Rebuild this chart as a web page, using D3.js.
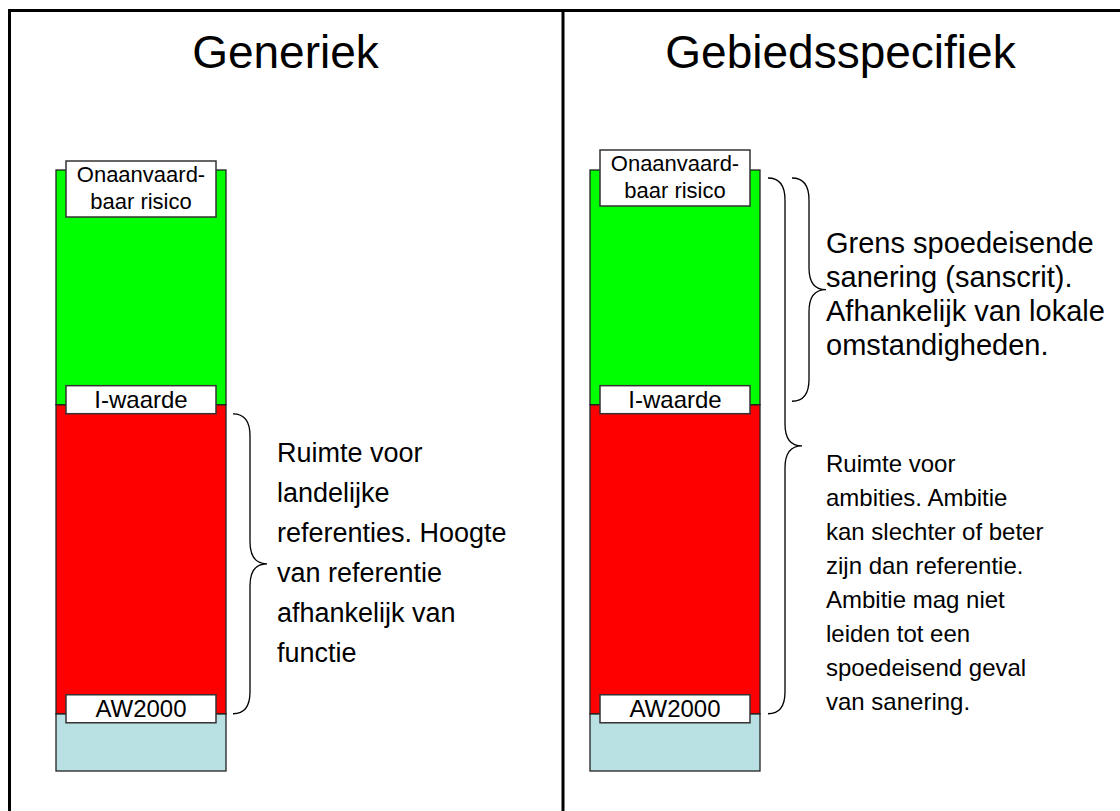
<!DOCTYPE html>
<html>
<head>
<meta charset="utf-8">
<script src="https://cdn.jsdelivr.net/npm/d3@7"></script>
<style>
  html, body { margin: 0; padding: 0; background: #fff; }
  svg { display: block; font-family: "Liberation Sans", Arial, sans-serif; }
</style>
</head>
<body>
<svg id="chart" width="1120" height="811"></svg>
<script>
const panels = ['Generiek', 'Gebiedsspecifiek'];
const levelNames = ['AW2000', 'I-waarde', 'Onaanvaard-|baar risico'];
const levelValues = [10, 64, 105];
const bandNames = ['achtergrond', 'ruimte', 'spoed'];
const bandRanges = [[0, 10], [10, 64], [64, 105]];
const braceRanges = [[[10, 62.4]], [[64.6, 103.6], [10, 103.6]]];
const notes = [
  [['Ruimte voor', 'landelijke', 'referenties. Hoogte', 'van referentie', 'afhankelijk van', 'functie']],
  [['Grens spoedeisende', 'sanering (sanscrit).', 'Afhankelijk van lokale', 'omstandigheden.'],
   ['Ruimte voor', 'ambities. Ambitie', 'kan slechter of beter', 'zijn dan referentie.', 'Ambitie mag niet', 'leiden tot een', 'spoedeisend geval', 'van sanering.']]
];

const bandColors = ['#b9e0e3', '#ff0000', '#00ff00'];
const svg = d3.select('#chart');

// panel frame + titles
const x = d3.scaleBand().domain(panels).range([8, 1118]);
// bar positions inside the panels
const xBar = d3.scaleBand().domain(panels).range([56, 1124]);
const y = d3.scaleLinear().domain([0, 105]).range([771, 170]);

svg.append('rect')
   .attr('x', 9.5).attr('y', 10.5)
   .attr('width', 1125).attr('height', 820)
   .attr('fill', 'none').attr('stroke', '#000').attr('stroke-width', 3);
svg.append('line')
   .attr('x1', x(panels[1])).attr('x2', x(panels[1]))
   .attr('y1', 10).attr('y2', 811)
   .attr('stroke', '#000').attr('stroke-width', 3);

// brace "}" path
function brace(x0, yTop, yBot, w) {
  const ym = (yTop + yBot) / 2, r = 22;
  return `M${x0},${yTop} Q${x0 + w},${yTop} ${x0 + w},${yTop + r}` +
         ` L${x0 + w},${ym - r} Q${x0 + w},${ym} ${x0 + 2 * w},${ym}` +
         ` Q${x0 + w},${ym} ${x0 + w},${ym + r} L${x0 + w},${yBot - r}` +
         ` Q${x0 + w},${yBot} ${x0},${yBot}`;
}

const braceX = [[233], [792, 768]];
const noteX = [[277], [826, 826]];
const noteY = [[462], [253, 472]];
const noteStep = [[40], [34, 34]];
const noteSize = [[27], [29, 24]];
const topBoxY = [161, 150];

panels.forEach((p, i) => {
  svg.append('text')
     .attr('x', x(p) + x.bandwidth() / 2).attr('y', 68)
     .attr('text-anchor', 'middle')
     .attr('font-size', 46)
     .text(p);

  const bx = xBar(p), bw = 170;
  svg.append('g').selectAll('rect')
     .data(bandRanges)
     .enter().append('rect')
     .attr('x', bx).attr('width', bw)
     .attr('y', d => y(d[1]))
     .attr('height', d => y(d[0]) - y(d[1]))
     .attr('fill', (d, j) => bandColors[j])
     .attr('stroke', '#222').attr('stroke-width', 1.3);

  // level labels
  levelNames.forEach((name, j) => {
    const lines = name.split('|');
    const lx = bx + 10, lw = 150;
    let top, h;
    if (lines.length > 1) { top = topBoxY[i]; h = 56; }
    else { h = 28; top = y(levelValues[j]) - 19; }
    svg.append('rect')
       .attr('x', lx).attr('y', top).attr('width', lw).attr('height', h)
       .attr('fill', '#fff').attr('stroke', '#333').attr('stroke-width', 1.5);
    const t = svg.append('text')
       .attr('text-anchor', 'middle')
       .attr('font-size', lines.length > 1 ? 22 : 24);
    lines.forEach((ln, k) => {
      t.append('tspan')
       .attr('x', lx + lw / 2)
       .attr('y', top + (lines.length > 1 ? 21 + k * 27 : 22))
       .text(ln);
    });
  });

  // braces + notes
  braceRanges[i].forEach((r, k) => {
    svg.append('path')
       .attr('d', brace(braceX[i][k], y(r[1]), y(r[0]), 17))
       .attr('fill', 'none').attr('stroke', '#000').attr('stroke-width', 1.3);
  });
  notes[i].forEach((block, k) => {
    const t = svg.append('text').attr('font-size', noteSize[i][k]);
    block.forEach((ln, m) => {
      t.append('tspan')
       .attr('x', noteX[i][k])
       .attr('y', noteY[i][k] + m * noteStep[i][k])
       .text(ln);
    });
  });
});
</script>
</body>
</html>
